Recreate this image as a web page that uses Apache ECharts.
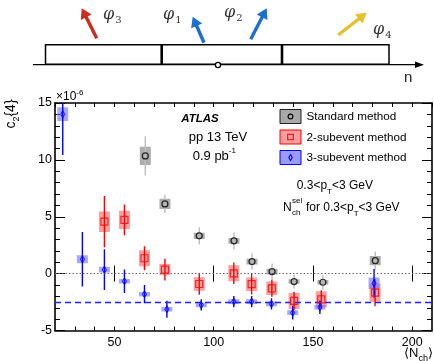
<!DOCTYPE html>
<html><head><meta charset="utf-8">
<script src="https://cdn.jsdelivr.net/npm/echarts@6/dist/echarts.min.js"></script>
<style>html,body{margin:0;padding:0;background:#fff}#c{width:434px;height:361px}</style>
</head><body><div id="c"></div>
<script>
// ---- data ----
const xStd = [65.5, 75.4, 92.7, 110.2, 119.3, 129.4, 140.5, 155.0, 181.4];
const yStd = [10.35, 6.13, 3.32, 2.88, 1.06, 0.18, -0.70, -0.76, 1.14];
const statStd = [1.73, 0.8, 0.75, 0.75, 0.73, 0.7, 0.6, 0.65, 0.8];
const systStd = [0.8, 0.45, 0.27, 0.25, 0.25, 0.25, 0.2, 0.2, 0.4];

const x2sub = [44.9, 55.0, 65.1, 75.4, 92.7, 110.1, 119.1, 129.3, 140.5, 154.2, 181.3];
const y2sub = [4.57, 4.72, 1.35, 0.35, -0.91, 0.03, -0.93, -1.29, -2.40, -2.26, -1.67];
const stat2sub = [2.25, 1.35, 1.05, 0.95, 0.95, 0.95, 0.9, 0.75, 0.8, 0.8, 1.2];
const syst2sub = [0.9, 0.8, 0.7, 0.5, 0.6, 0.7, 0.6, 0.6, 0.7, 0.7, 0.8];

const x3sub = [23.9, 33.8, 44.9, 55.0, 65.1, 76.4, 93.7, 110.1, 119.1, 129.1, 139.8, 153.5, 180.8];
const y3sub = [14.02, 1.27, 0.35, -0.67, -1.81, -3.13, -2.75, -2.46, -2.46, -2.66, -3.43, -2.96, -0.85];
const stat3sub = [3.6, 2.4, 1.8, 1.03, 0.8, 0.75, 0.5, 0.5, 0.5, 0.5, 0.6, 0.6, 1.25];
const syst3sub = [0.6, 0.35, 0.25, 0.2, 0.2, 0.2, 0.2, 0.2, 0.2, 0.2, 0.2, 0.2, 0.5];

const zeroLine = 0;
const dashedLevel = -2.55;

const xMajorTicks = [50, 100, 150, 200];
const yTickLabels = [-5, 0, 5, 10, 15];
const legendNames = ['Standard method', '2-subevent method', '3-subevent method'];

// ---- build ----
const FONT = '"Liberation Sans", Arial, sans-serif';
function rows(xs, ys, st, sy) { return xs.map((x, i) => [x, ys[i], st[i], sy[i]]); }
function pts(xs, ys) { return xs.map((x, i) => [x, ys[i]]); }

function errRenderer(lineColor, boxColor) {
  return function (params, api) {
    const x = api.value(0), y = api.value(1), st = api.value(2), sy = api.value(3);
    const p = api.coord([x, y]);
    const t = api.coord([x, y + st]), b = api.coord([x, y - st]);
    const bt = api.coord([x, y + sy]), bb = api.coord([x, y - sy]);
    return {
      type: 'group',
      children: [
        { type: 'rect', shape: { x: p[0] - 5.5, y: bt[1], width: 11, height: bb[1] - bt[1] }, style: { fill: boxColor } },
        { type: 'line', shape: { x1: p[0], y1: t[1], x2: p[0], y2: b[1] }, style: { stroke: lineColor, lineWidth: 1.4 } }
      ]
    };
  };
}

function arrow(x1, y1, x2, y2, color) {
  const dx = x2 - x1, dy = y2 - y1, L = Math.hypot(dx, dy);
  const ux = dx / L, uy = dy / L, hl = 10, hw = 6;
  const bx = x2 - ux * hl, by = y2 - uy * hl;
  return [
    { type: 'line', shape: { x1: x1, y1: y1, x2: bx + ux, y2: by + uy }, style: { stroke: color, lineWidth: 3.4 } },
    { type: 'polygon', shape: { points: [[x2, y2], [bx - uy * hw, by + ux * hw], [bx + uy * hw, by - ux * hw]] }, style: { fill: color } }
  ];
}

const phiRich = {
  p: { font: 'italic 16px "DejaVu Serif", serif', fill: '#333', verticalAlign: 'middle', lineHeight: 20 },
  s: { font: '10px "DejaVu Serif", serif', fill: '#333', verticalAlign: 'bottom', lineHeight: 12, padding: [0, 0, 0, 1] }
};
function phi(n, x, y) {
  return { type: 'text', x: x, y: y, style: { text: '{p|φ}{s|' + n + '}', rich: phiRich, textVerticalAlign: 'middle' } };
}

const graphics = [
  // detector diagram
  { type: 'line', shape: { x1: 33, y1: 64.7, x2: 418, y2: 64.7 }, style: { stroke: '#000', lineWidth: 1.3 } },
  { type: 'polygon', shape: { points: [[424, 64.7], [415, 61.5], [415, 68]] }, style: { fill: '#000' } },
  { type: 'rect', shape: { x: 45.5, y: 44.8, width: 343.5, height: 19.5 }, style: { fill: 'none', stroke: '#000', lineWidth: 1.5 } },
  { type: 'line', shape: { x1: 161.7, y1: 44, x2: 161.7, y2: 65 }, style: { stroke: '#000', lineWidth: 2.6 } },
  { type: 'line', shape: { x1: 282, y1: 44, x2: 282, y2: 65 }, style: { stroke: '#000', lineWidth: 2.6 } },
  { type: 'circle', shape: { cx: 218, cy: 65, r: 2.6 }, style: { fill: '#fff', stroke: '#000', lineWidth: 1.3 } },
  { type: 'text', x: 404, y: 78, style: { text: 'n', font: '15px ' + FONT, fill: '#222', textVerticalAlign: 'middle' } },
  ...arrow(96.7, 38.3, 81.7, 8.3, '#cc2b1d'),
  ...arrow(204, 42.7, 192.7, 16.7, '#1b6fd0'),
  ...arrow(250.7, 39.3, 266.7, 8.3, '#1b6fd0'),
  ...arrow(338.3, 35, 366.7, 12.7, '#e2c12a'),
  phi(3, 103, 15), phi(1, 163, 15), phi(2, 224, 13), phi(4, 373, 30),

  // axis titles
  { type: 'text', x: 11, y: 114, rotation: Math.PI / 2,
    style: { text: 'c{s|2}{4}', font: '14px ' + FONT, fill: '#000', textAlign: 'center', textVerticalAlign: 'middle',
      rich: { s: { font: '9px ' + FONT, fill: '#000', verticalAlign: 'bottom', lineHeight: 20 } } } },
  { type: 'text', x: 56, y: 97,
    style: { text: '×10{s|-6}', font: '12px ' + FONT, fill: '#000', textVerticalAlign: 'middle',
      rich: { s: { font: '8px ' + FONT, fill: '#000', verticalAlign: 'top', lineHeight: 16 } } } },
  { type: 'text', x: 433, y: 353,
    style: { text: '⟨N{s|ch}⟩', font: '13px ' + FONT, fill: '#000', textAlign: 'right', textVerticalAlign: 'middle',
      rich: { s: { font: '9px ' + FONT, fill: '#000', verticalAlign: 'bottom', lineHeight: 20 } } } },

  // annotations
  { type: 'text', x: 200, y: 119, style: { text: 'ATLAS', font: 'italic bold 11.5px ' + FONT, fill: '#000', textAlign: 'center', textVerticalAlign: 'middle' } },
  { type: 'text', x: 218, y: 137.5, style: { text: 'pp 13 TeV', font: '13px ' + FONT, fill: '#000', textAlign: 'center', textVerticalAlign: 'middle' } },
  { type: 'text', x: 192.7, y: 156,
    style: { text: '0.9 pb{s|-1}', font: '13px ' + FONT, fill: '#000', textVerticalAlign: 'middle',
      rich: { s: { font: '8px ' + FONT, fill: '#000', verticalAlign: 'top', lineHeight: 18 } } } },
  { type: 'text', x: 296.7, y: 186,
    style: { text: '0.3<p{s|T}<3 GeV', font: '12px ' + FONT, fill: '#000', textVerticalAlign: 'middle',
      rich: { s: { font: '8px ' + FONT, fill: '#000', verticalAlign: 'bottom', lineHeight: 20 } } } },
  { type: 'text', x: 283, y: 208, style: { text: 'N', font: '12px ' + FONT, fill: '#000', textVerticalAlign: 'middle' } },
  { type: 'text', x: 292, y: 201, style: { text: 'sel', font: '8px ' + FONT, fill: '#000', textVerticalAlign: 'middle' } },
  { type: 'text', x: 292, y: 212.5, style: { text: 'ch', font: '8px ' + FONT, fill: '#000', textVerticalAlign: 'middle' } },
  { type: 'text', x: 306, y: 208,
    style: { text: 'for 0.3<p{s|T}<3 GeV', font: '12px ' + FONT, fill: '#000', textVerticalAlign: 'middle',
      rich: { s: { font: '8px ' + FONT, fill: '#000', verticalAlign: 'bottom', lineHeight: 20 } } } },

  // legend
  { type: 'rect', shape: { x: 280, y: 109.5, width: 21, height: 14 }, style: { fill: '#a8a8a8', stroke: '#222', lineWidth: 1 } },
  { type: 'circle', shape: { cx: 290.5, cy: 116.5, r: 2.4 }, style: { fill: 'none', stroke: '#000', lineWidth: 1.1 } },
  { type: 'text', x: 306.5, y: 117, style: { text: legendNames[0], font: '11.7px ' + FONT, fill: '#000', textVerticalAlign: 'middle' } },
  { type: 'rect', shape: { x: 280, y: 130, width: 21, height: 14 }, style: { fill: '#f8a0a0', stroke: '#f00', lineWidth: 1 } },
  { type: 'rect', shape: { x: 287.7, y: 134.2, width: 5.6, height: 5.6 }, style: { fill: 'none', stroke: '#f00', lineWidth: 1.1 } },
  { type: 'text', x: 306.5, y: 137.7, style: { text: legendNames[1], font: '11.7px ' + FONT, fill: '#000', textVerticalAlign: 'middle' } },
  { type: 'rect', shape: { x: 280, y: 150.5, width: 21, height: 14 }, style: { fill: '#9c9cf8', stroke: '#00f', lineWidth: 1 } },
  { type: 'polygon', shape: { points: [[290.5, 154.5], [292.2, 157.5], [290.5, 160.5], [288.8, 157.5]] }, style: { fill: 'none', stroke: '#00f', lineWidth: 1.1 } },
  { type: 'text', x: 306.5, y: 158, style: { text: legendNames[2], font: '11.7px ' + FONT, fill: '#000', textVerticalAlign: 'middle' } }
];

const baseX = { type: 'value', min: 20, max: 210, interval: 10, splitLine: { show: false } };
const baseY = { type: 'value', min: -5, max: 15, interval: 5, splitLine: { show: false } };
const axLine = { show: true, onZero: false, lineStyle: { color: '#000', width: 1.6 } };

const option = {
  animation: false,
  backgroundColor: '#fff',
  grid: { left: 55, top: 103, right: 2, bottom: 30.5, containLabel: false },
  xAxis: [
    Object.assign({}, baseX, { position: 'bottom', axisLine: axLine,
      axisTick: { inside: true, length: 4, lineStyle: { color: '#000', width: 1 } },
      axisLabel: { color: '#000', fontSize: 12.5, fontFamily: FONT, margin: 6, showMaxLabel: false, showMinLabel: false,
        formatter: v => (xMajorTicks.indexOf(v) >= 0 ? String(v) : '') } }),
    Object.assign({}, baseX, { position: 'bottom', axisLine: { show: false },
      axisTick: { inside: true, length: 8, customValues: xMajorTicks, lineStyle: { color: '#000', width: 1 } },
      axisLabel: { show: false } }),
    Object.assign({}, baseX, { position: 'top', axisLine: axLine,
      axisTick: { inside: true, length: 4, lineStyle: { color: '#000', width: 1 } }, axisLabel: { show: false } }),
    Object.assign({}, baseX, { position: 'top', axisLine: { show: false },
      axisTick: { inside: true, length: 8, customValues: xMajorTicks, lineStyle: { color: '#000', width: 1 } },
      axisLabel: { show: false } })
  ],
  yAxis: [
    Object.assign({}, baseY, { position: 'left', axisLine: axLine,
      axisTick: { inside: true, length: 10, lineStyle: { color: '#000', width: 1 } },
      minorTick: { show: true, splitNumber: 5, length: 5, lineStyle: { color: '#000', width: 1 } },
      axisLabel: { color: '#000', fontSize: 12.5, fontFamily: FONT, margin: 3,
        formatter: v => (yTickLabels.indexOf(v) >= 0 ? String(v) : '') } }),
    Object.assign({}, baseY, { position: 'right', axisLine: axLine,
      axisTick: { inside: true, length: 10, lineStyle: { color: '#000', width: 1 } },
      minorTick: { show: true, splitNumber: 5, length: 5, lineStyle: { color: '#000', width: 1 } },
      axisLabel: { show: false } })
  ],
  series: [
    { type: 'custom', name: legendNames[0], clip: true, z: 2, renderItem: errRenderer('#bdbdbd', '#adadad'),
      data: rows(xStd, yStd, statStd, systStd),
      markLine: { silent: true, symbol: 'none', label: { show: false },
        lineStyle: { color: '#666', type: [1.5, 2], width: 1.2 }, data: [{ yAxis: zeroLine }] } },
    { type: 'custom', name: legendNames[1], clip: true, z: 2, renderItem: errRenderer('#ff0000', 'rgba(245,110,110,0.65)'),
      data: rows(x2sub, y2sub, stat2sub, syst2sub) },
    { type: 'custom', name: legendNames[2], clip: true, z: 2, renderItem: errRenderer('#0000ff', 'rgba(110,110,245,0.6)'),
      data: rows(x3sub, y3sub, stat3sub, syst3sub),
      markLine: { silent: true, symbol: 'none', label: { show: false },
        lineStyle: { color: '#2222ff', type: [6, 4], width: 1.3 }, data: [{ yAxis: dashedLevel }] } },
    { type: 'scatter', z: 5, symbol: 'circle', symbolSize: 6, data: pts(xStd, yStd),
      itemStyle: { color: 'rgba(0,0,0,0)', borderColor: '#000', borderWidth: 1.2 } },
    { type: 'scatter', z: 5, symbol: 'rect', symbolSize: 7, data: pts(x2sub, y2sub),
      itemStyle: { color: 'rgba(0,0,0,0)', borderColor: '#ff0000', borderWidth: 1.2 } },
    { type: 'scatter', z: 5, symbol: 'diamond', symbolSize: [4, 7], data: pts(x3sub, y3sub),
      itemStyle: { color: 'rgba(0,0,0,0)', borderColor: '#0000ff', borderWidth: 1.1 } }
  ],
  graphic: { elements: graphics }
};

const chart = echarts.init(document.getElementById('c'), null, { renderer: 'canvas' });
chart.setOption(option);
</script>
</body></html>
